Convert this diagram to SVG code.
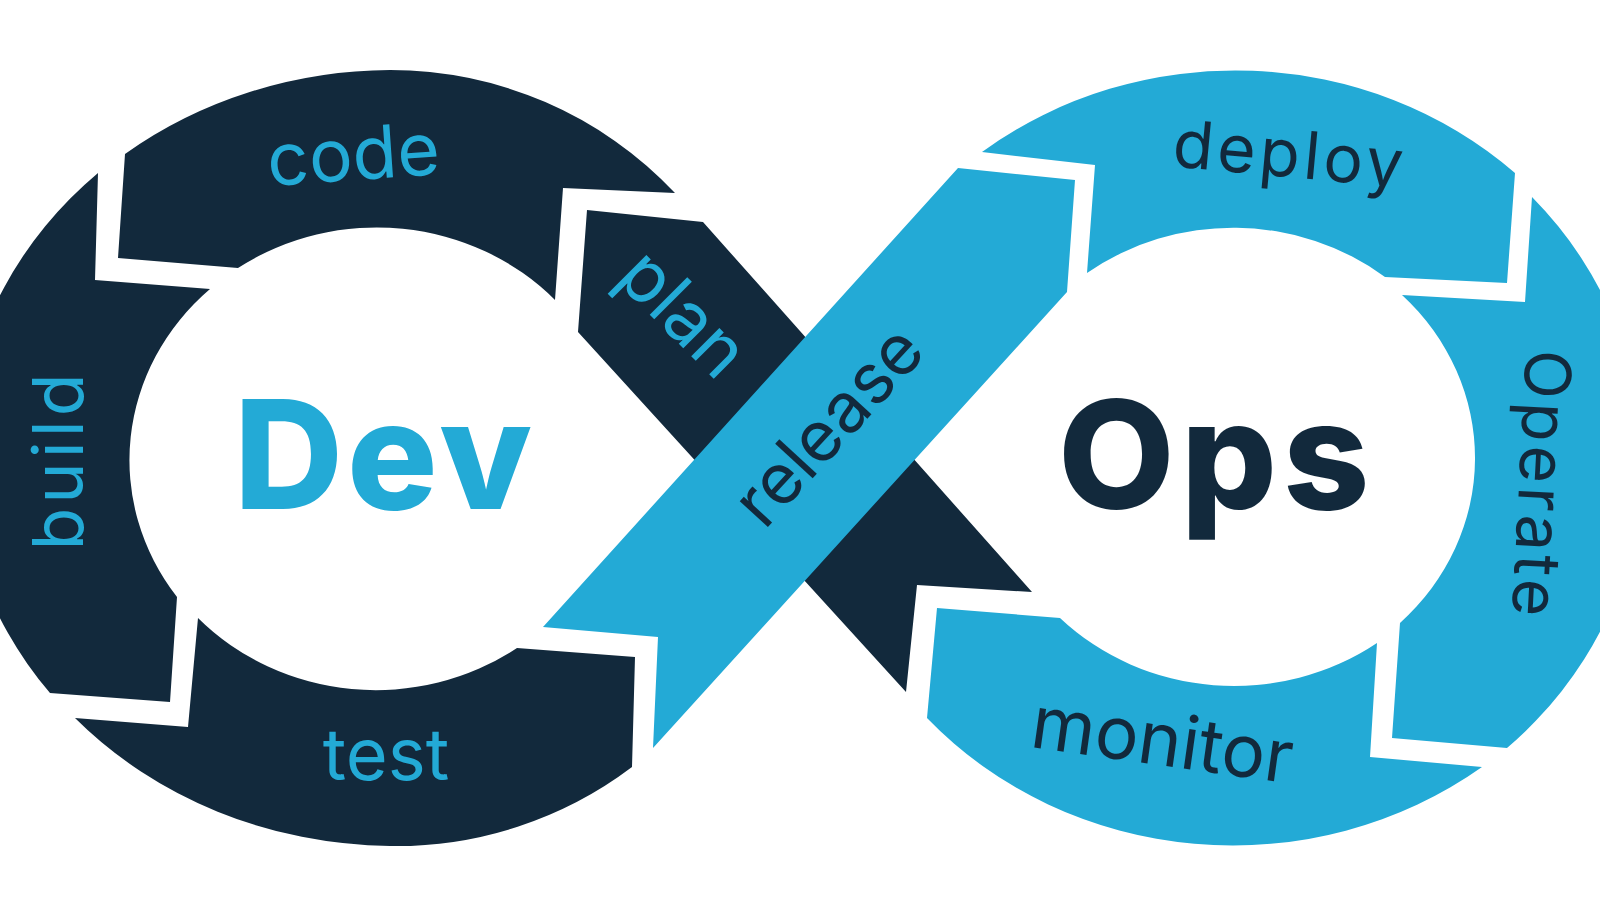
<svg xmlns="http://www.w3.org/2000/svg" width="1600" height="900" viewBox="0 0 1600 900">
<style>
.dark{fill:#12293c}
.light{fill:#23aad6}
.lbl{font-family:Inter,"Noto Sans","Liberation Sans",sans-serif;font-weight:400;text-anchor:middle}
.big{font-family:Inter,"Noto Sans","Liberation Sans",sans-serif;font-weight:800}
.tl{fill:#23aad6}
.td{fill:#12293c}
</style>
<rect width="1600" height="900" fill="#ffffff"/>
<g id="connectors"></g>
<g id="code">
<path class="dark" d="M125,154 A431,388 0 0 1 390,70 A390,388 0 0 1 675,193 L563,188 L555,300 A245,231 0 0 0 238,268 L118,258 Z"/>
<text class="lbl tl" transform="translate(355,180) rotate(-4)" font-size="73">code</text>
</g>
<g id="build">
<path class="dark" d="M98,173 A431,388 0 0 0 50,693 L170,702 L177,597 A245,231 0 0 1 210,289 L95,280 Z"/>
<text class="lbl tl" transform="translate(83,460) rotate(-90)" font-size="70" letter-spacing="4">build</text>
</g>
<g id="test">
<path class="dark" d="M75,718 A431,388 0 0 0 390,846 A390,388 0 0 0 632,767 L635,657 L517,648 A245,231 0 0 1 198,618 L188,727 Z"/>
<text class="lbl tl" transform="translate(386,780)" font-size="72">test</text>
</g>
<g id="plan">
<path class="dark" d="M587,210 L703,222 L1032,592 L917,585 L906,692 L578,332 Z"/>
<text class="lbl tl" transform="translate(666,331) rotate(45)" font-size="73">plan</text>
</g>
<g id="release">
<path class="light" d="M543,627 L658,637 L653,748 L1067,292 L1075,180 L958,168 Z"/>
<text class="lbl td" transform="translate(846,442) rotate(-47.4)" font-size="70">release</text>
</g>
<g id="deploy">
<path class="light" d="M982,152 A413,388 0 0 1 1515,173 L1507,283 L1385,277 A245,229 0 0 0 1087,273 L1095,165 Z"/>
<text class="lbl td" transform="translate(1288,177) rotate(5.3)" font-size="66" letter-spacing="4">deploy</text>
</g>
<g id="operate">
<path class="light" d="M1532,197 A413,388 0 0 1 1507,748 L1392,738 L1400,623 A245,229 0 0 0 1402,295 L1525,302 Z"/>
<text class="lbl td" transform="translate(1519,484) rotate(93)" font-size="64" letter-spacing="4">Operate</text>
</g>
<g id="monitor">
<path class="light" d="M1482,767 A413,388 0 0 1 927,718 L937,608 L1060,618 A245,229 0 0 0 1377,643 L1370,757 Z"/>
<text class="lbl td" transform="translate(1159,765) rotate(8)" font-size="73">monitor</text>
</g>
<g id="dev">
<text class="big tl" x="234" y="509" font-size="151" letter-spacing="4">Dev</text>
</g>
<g id="ops">
<text class="big td" x="1058" y="509" font-size="151" letter-spacing="6">Ops</text>
</g>
</svg>
